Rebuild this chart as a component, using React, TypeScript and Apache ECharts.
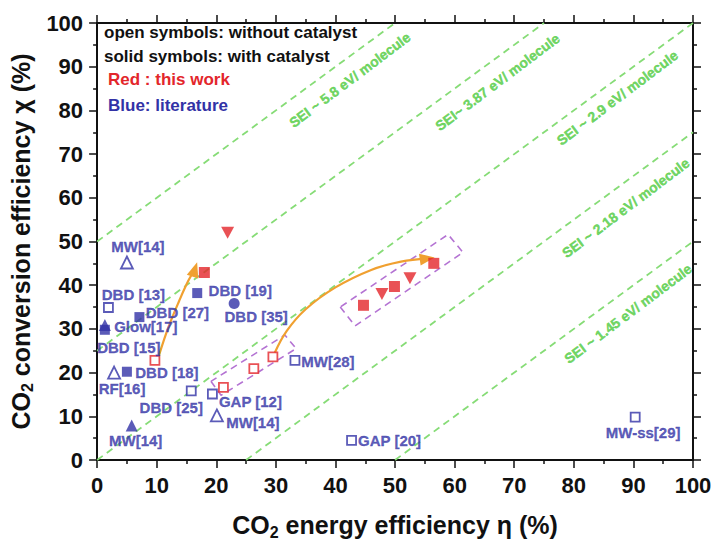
import React, { useEffect, useRef } from "react";
import * as echarts from "echarts";

// ---------- data ----------
// Literature points (blue)
const litNames = ["MW[14]", "DBD [13]", "Glow[17]", "DBD [15]", "DBD [27]", "DBD [19]", "DBD [35]", "RF[16]", "DBD [18]", "DBD [25]", "GAP [12]", "MW[14]", "MW[14]", "MW[28]", "GAP [20]", "MW-ss[29]"];
const litEta = [5.0, 1.9, 1.3, 1.3, 7.1, 16.8, 23.0, 2.85, 5.0, 15.8, 19.35, 20.1, 5.8, 33.2, 42.7, 90.3];
const litChi = [45.2, 34.9, 30.9, 29.8, 32.7, 38.2, 35.8, 20.0, 20.2, 15.8, 15.1, 10.2, 7.9, 22.8, 4.5, 9.8];
const litKind = ["openTri", "openSq", "solidTri", "solidSq", "solidSq", "solidSq", "solidCircle", "openTri", "solidSq", "openSq", "openSq", "openTri", "solidTri", "openSq", "openSq", "openSq"];

// This work (red)
const redOpenEta = [9.7, 21.2, 26.3, 29.5];
const redOpenChi = [22.8, 16.6, 20.9, 23.6];
const redSolidEta = [18.0, 44.7, 49.9, 56.5];
const redSolidChi = [42.9, 35.4, 39.7, 45.0];
const redTriEta = [21.9, 47.8, 52.5];
const redTriChi = [52.0, 38.0, 41.6];

// Arrows (orange)
const arrowLeftEta = [10.4, 12.0, 13.8, 15.3, 16.4];
const arrowLeftChi = [24.0, 30.5, 36.5, 41.0, 43.6];
const arrowRightEta = [29.8, 31.8, 35.0, 40.0, 46.0, 51.0, 55.4];
const arrowRightChi = [24.5, 29.5, 34.5, 39.5, 43.5, 45.4, 46.1];

// Dashed boxes (purple)
const boxLowEta = [19.1, 20.8, 33.4, 31.5, 19.1];
const boxLowChi = [18.0, 14.8, 25.5, 28.6, 18.0];
const boxHighEta = [40.8, 43.3, 61.4, 58.9, 40.8];
const boxHighChi = [35.0, 30.7, 47.5, 51.6, 35.0];

// SEI lines: chi = eta + intercept
const seiIntercepts = [50, 25, 0, -25, -50];
const seiLabels = ["SEI ~ 5.8 eV/ molecule", "SEI~ 3.87 eV/ molecule", "SEI ~ 2.9 eV/ molecule", "SEI ~ 2.18 eV/ molecule", "SEI ~ 1.45 eV/ molecule"];
const seiLabelEta = [42.4, 67.2, 87.3, 88.7, 89.1];
const seiLabelChi = [87.0, 86.5, 82.9, 57.7, 33.5];

const xTicks = [0, 10, 20, 30, 40, 50, 60, 70, 80, 90, 100];
const yTicks = [0, 10, 20, 30, 40, 50, 60, 70, 80, 90, 100];

const legendLines = ["open symbols: without catalyst", "solid symbols: with catalyst", "Red : this work", "Blue: literature"];

// ---------- styles ----------
const FONT = "'Liberation Sans', Arial, Helvetica, sans-serif";
const BLUE = "#3232a6";
const RED = "#e3262b";
const ORANGE = "#f0a030";
const PURPLE = "#b473d3";
const GREEN_LINE = "#86dc76";
const GREEN_TEXT = "#4ccb3c";

// label offsets (px) relative to marker center
const litLabelOffsets: number[][] = [
  [11, -16], [25, -13], [41, 2], [24, 18], [38, -5], [43, -3], [22, 13], [8, 16],
  [40, 1], [-20, 17], [38, 7], [36, 7], [4, 15], [33, 1], [38, 0], [8, 15],
];

function symbolFor(kind: string) {
  const open = kind.startsWith("open");
  let symbol = "rect";
  let size = 9;
  if (kind.endsWith("Tri")) { symbol = "triangle"; size = 12; }
  if (kind.endsWith("Circle")) { symbol = "circle"; size = 11; }
  if (kind === "solidSq") size = 10;
  return {
    symbol,
    symbolSize: size,
    itemStyle: open
      ? { color: "#ffffff", borderColor: BLUE, borderWidth: 1.8 }
      : { color: BLUE, borderColor: BLUE, borderWidth: 0 },
  };
}

export default function App() {
  const ref = useRef<HTMLDivElement>(null);

  useEffect(() => {
    if (!ref.current) return;
    const chart = echarts.init(ref.current, undefined, { renderer: "svg" });

    const litData = litNames.map((name, i) => {
      const s = symbolFor(litKind[i]);
      return {
        name,
        value: [litEta[i], litChi[i]],
        symbol: s.symbol,
        symbolSize: s.symbolSize,
        itemStyle: s.itemStyle,
        label: {
          show: true,
          position: "inside",
          offset: litLabelOffsets[i],
          formatter: name,
          color: BLUE,
          fontSize: 15,
          fontWeight: "bold",
          fontFamily: FONT,
          textBorderColor: BLUE,
          textBorderWidth: 0.3,
        },
      };
    });

    const seiLineSeries = seiIntercepts.map((c) => {
      const x0 = Math.max(0, -c);
      const x1 = Math.min(100, 100 - c);
      return {
        type: "line",
        data: [[x0, x0 + c], [x1, x1 + c]],
        symbol: "none",
        silent: true,
        lineStyle: { color: GREEN_LINE, width: 1.8, type: [7, 5] },
        z: 1,
      };
    });

    const arrowData = (etas: number[], chis: number[], rot: number) =>
      etas.map((e, i) =>
        i === etas.length - 1
          ? { value: [e, chis[i]], symbol: "triangle", symbolSize: [12, 15], symbolRotate: rot, itemStyle: { color: ORANGE } }
          : { value: [e, chis[i]], symbol: "none" }
      );

    const axisCommon = {
      type: "value",
      min: 0,
      max: 100,
      interval: 10,
      axisLine: { show: true, onZero: false, lineStyle: { color: "#111", width: 2 } },
      axisTick: { show: true, length: 8, lineStyle: { color: "#111", width: 1.5 } },
      minorTick: { show: true, splitNumber: 2, length: 4, lineStyle: { color: "#111", width: 1.5 } },
      splitLine: { show: false },
    };

    const nameRich = {
      a: { fontSize: 25, fontWeight: "bold", fontFamily: FONT, color: "#111", lineHeight: 30 },
      s: { fontSize: 16, fontWeight: "bold", fontFamily: FONT, color: "#111", lineHeight: 16, verticalAlign: "bottom" },
    };

    const option: any = {
      animation: false,
      backgroundColor: "#ffffff",
      grid: { left: 97, top: 23, width: 596, height: 440, containLabel: false },
      xAxis: [
        {
          ...axisCommon,
          position: "bottom",
          name: "{a|CO}{s|2}{a| energy efficiency η (%)}",
          nameLocation: "middle",
          nameGap: 50,
          nameTextStyle: { rich: nameRich },
          axisLabel: {
            margin: 14,
            color: "#111",
            fontSize: 22,
            fontWeight: "bold",
            fontFamily: FONT,
            formatter: (v: number) => (xTicks.includes(v) ? String(v) : ""),
          },
        },
        { ...axisCommon, position: "top", axisLabel: { show: false } },
      ],
      yAxis: [
        {
          ...axisCommon,
          position: "left",
          name: "{a|CO}{s|2}{a| conversion efficiency χ (%)}",
          nameLocation: "middle",
          nameGap: 58,
          nameRotate: 90,
          nameTextStyle: { rich: nameRich },
          axisLabel: {
            margin: 14,
            color: "#111",
            fontSize: 22,
            fontWeight: "bold",
            fontFamily: FONT,
            formatter: (v: number) => (yTicks.includes(v) ? String(v) : ""),
          },
        },
        { ...axisCommon, position: "right", axisLabel: { show: false } },
      ],
      series: [
        ...seiLineSeries,
        {
          type: "scatter",
          data: seiLabels.map((t, i) => ({ name: t, value: [seiLabelEta[i], seiLabelChi[i]] })),
          symbolSize: 0,
          silent: true,
          label: {
            show: true,
            position: "inside",
            rotate: 37,
            formatter: (p: any) => p.name,
            color: GREEN_TEXT,
            fontSize: 14,
            fontWeight: "bold",
            fontFamily: FONT,
            textBorderColor: GREEN_TEXT,
            textBorderWidth: 0.4,
          },
          z: 2,
        },
        {
          type: "line",
          data: boxLowEta.map((e, i) => [e, boxLowChi[i]]),
          symbol: "none",
          lineStyle: { color: PURPLE, width: 1.6, type: [7, 5] },
          z: 2,
        },
        {
          type: "line",
          data: boxHighEta.map((e, i) => [e, boxHighChi[i]]),
          symbol: "none",
          lineStyle: { color: PURPLE, width: 1.6, type: [7, 5] },
          z: 2,
        },
        {
          type: "line",
          smooth: 0.4,
          data: arrowData(arrowLeftEta, arrowLeftChi, -18),
          showSymbol: true,
          lineStyle: { color: ORANGE, width: 2.2 },
          z: 3,
        },
        {
          type: "line",
          smooth: 0.4,
          data: arrowData(arrowRightEta, arrowRightChi, -82),
          showSymbol: true,
          lineStyle: { color: ORANGE, width: 2.2 },
          z: 3,
        },
        {
          type: "scatter",
          data: litData,
          z: 4,
        },
        {
          type: "scatter",
          data: redOpenEta.map((e, i) => [e, redOpenChi[i]]),
          symbol: "rect",
          symbolSize: 9,
          itemStyle: { color: "#ffffff", borderColor: RED, borderWidth: 1.8 },
          z: 4,
        },
        {
          type: "scatter",
          data: redSolidEta.map((e, i) => [e, redSolidChi[i]]),
          symbol: "rect",
          symbolSize: 11,
          itemStyle: { color: RED },
          z: 5,
        },
        {
          type: "scatter",
          data: redTriEta.map((e, i) => [e, redTriChi[i]]),
          symbol: "triangle",
          symbolRotate: 180,
          symbolSize: [13, 12],
          itemStyle: { color: RED },
          z: 5,
        },
      ],
      graphic: legendLines.map((t, i) => ({
        type: "text",
        left: i < 2 ? 104 : 108,
        top: [24, 48, 71, 97][i],
        style: {
          text: t,
          fill: i < 2 ? "#111" : i === 2 ? RED : BLUE,
          fontSize: 17,
          fontWeight: "bold",
          fontFamily: FONT,
        },
      })),
    };

    chart.setOption(option);
    return () => chart.dispose();
  }, []);

  return (
    <div
      ref={ref}
      style={{ position: "fixed", left: 0, top: 0, width: 716, height: 545, background: "#fff" }}
    />
  );
}
